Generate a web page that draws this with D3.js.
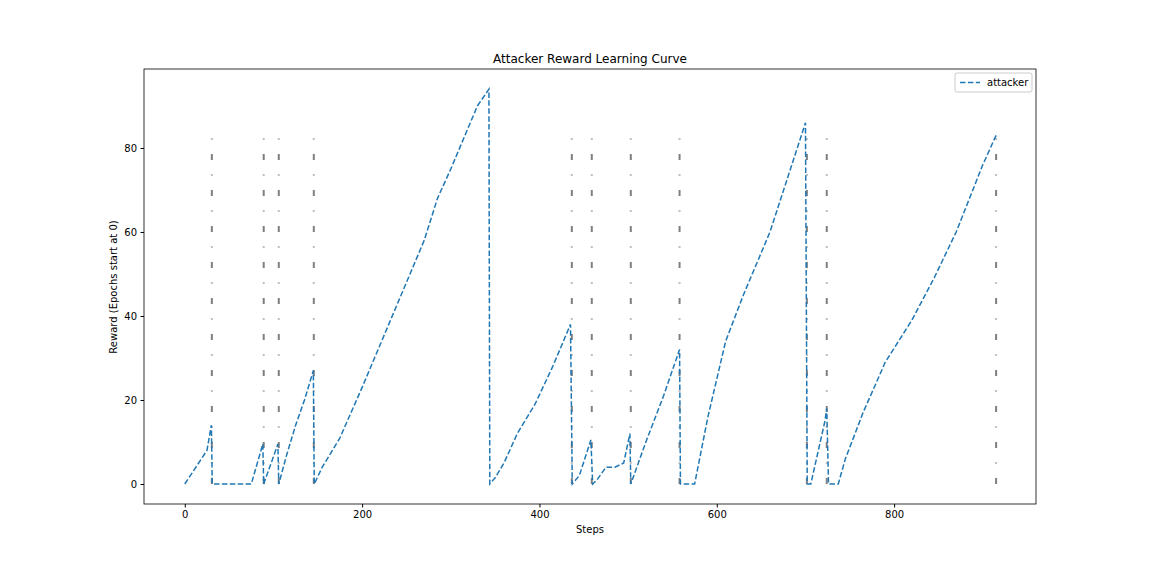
<!DOCTYPE html>
<html><head><meta charset="utf-8">
<script src="https://cdn.jsdelivr.net/npm/d3@7"></script>
<style>body{margin:0;background:#fff}text{font-family:"DejaVu Sans",sans-serif}</style>
</head><body><svg width="1152" height="576"></svg>
<script>
var steps   = [0,25,30,31,75,88,89,105,106,115,125,135,145,146,155,175,200,240,270,285,300,330,343,344,350,360,375,395,415,435,437,445,458,460,465,475,485,495,502,503,520,540,558,559,575,590,610,630,650,660,700,702,706,722,724,726,737,745,765,790,820,845,870,900,915];
var rewards = [0,8,14,0,0,9.5,0,9.5,0,7,14,20,27,0,4,11,23,43,58,68,75,90,94,0,1.5,5,12,19,28,38,0,2,10.5,0,1,4,4,5,12,0,10,21,32,0,0,16,34,45,55,60,86,0,0,15,18,0,0,6,17,29,39,49,60,76,83];
var epochEnds = [30.5,89,106,145.5,436.5,459,503,558,701.6,724,915];
var epochTop = 82.3;

var svg = d3.select("svg");
var x = d3.scaleLinear().domain([-46, 960]).range([144, 1036]);
var y = d3.scaleLinear().domain([-4.76, 98.8]).range([504, 69]);

svg.append("g").selectAll("line").data(epochEnds).enter().append("line")
  .attr("x1", d => x(d)).attr("x2", d => x(d))
  .attr("y1", y(0)).attr("y2", y(epochTop))
  .attr("stroke", "#7f7f7f").attr("stroke-width", 2)
  .attr("stroke-dasharray", "6,14.5,1,14.5");

var line = d3.line().x((d, i) => x(steps[i])).y(d => y(d));
svg.append("path").attr("d", line(rewards))
  .attr("fill", "none").attr("stroke", "#1f77b4").attr("stroke-width", 1.5)
  .attr("stroke-dasharray", "5.5,2.4");

svg.append("g").attr("transform", "translate(0,504)")
  .call(d3.axisBottom(x).tickValues([0,200,400,600,800]).tickSizeOuter(0).tickSize(3.5).tickPadding(3.5))
  .call(g => g.select(".domain").remove()).selectAll("text").attr("font-size", 10);
svg.append("g").attr("transform", "translate(144,0)")
  .call(d3.axisLeft(y).tickValues([0,20,40,60,80]).tickSizeOuter(0).tickSize(3.5).tickPadding(3.5))
  .call(g => g.select(".domain").remove()).selectAll("text").attr("font-size", 10);

svg.append("rect").attr("x", 144).attr("y", 69).attr("width", 892).attr("height", 435)
  .attr("fill", "none").attr("stroke", "#000").attr("stroke-width", 0.8);

svg.append("text").attr("x", 590).attr("y", 63).attr("text-anchor", "middle").attr("font-size", 12).text("Attacker Reward Learning Curve");
svg.append("text").attr("x", 590).attr("y", 533).attr("text-anchor", "middle").attr("font-size", 10).text("Steps");
svg.append("text").attr("transform", "translate(117,287) rotate(-90)").attr("text-anchor", "middle").attr("font-size", 10).text("Reward (Epochs start at 0)");

var lg = svg.append("g").attr("transform", "translate(955,73)");
lg.append("rect").attr("width", 77).attr("height", 19).attr("rx", 2).attr("fill", "#fff").attr("stroke", "#ccc");
lg.append("line").attr("x1", 5).attr("x2", 25).attr("y1", 9.5).attr("y2", 9.5)
  .attr("stroke", "#1f77b4").attr("stroke-width", 1.5).attr("stroke-dasharray", "5.5,2.4");
lg.append("text").attr("x", 32).attr("y", 13).attr("font-size", 10).text("attacker");
</script></body></html>
